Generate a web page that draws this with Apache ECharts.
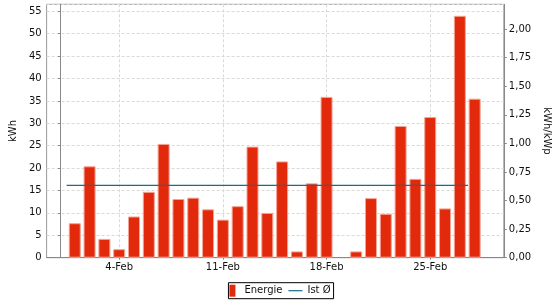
<!DOCTYPE html>
<html>
<head>
<meta charset="utf-8">
<script src="https://cdn.jsdelivr.net/npm/echarts@6/dist/echarts.min.js"></script>
<style>html,body{margin:0;padding:0;background:#fff}#c{width:560px;height:300px}</style>
</head>
<body>
<div id="c"></div>
<script>
// Data
const days = [1,2,3,4,5,6,7,8,9,10,11,12,13,14,15,16,17,18,19,20,21,22,23,24,25,26,27,28];
const energie = [7.7,20.4,4.2,1.9,9.2,14.7,25.4,13.1,13.4,10.8,8.5,11.5,24.8,10.0,21.5,1.4,16.6,35.9,null,1.4,13.3,9.8,29.4,17.6,31.4,11.0,54.0,35.5];
const xTickDays = [4,11,18,25];
const istAvg = 0.633;          // kWh/kWp
const istRange = [0.45, 27.55]; // day span of the average line
const seriesNames = ['Energie', 'Ist Ø'];

const font = 'DejaVu Sans';
const chart = echarts.init(document.getElementById('c'), null, {renderer: 'canvas'});
chart.setOption({
  animation: false,
  backgroundColor: '#fff',
  textStyle: {fontFamily: font},
  grid: {left: 46, right: 54.3, top: 4.3, bottom: 42.3, show: true, borderColor: '#999', borderWidth: 1, backgroundColor: 'transparent'},
  legend: {
    data: [
      {name: seriesNames[0], icon: 'path://M0,0h6v12h-6z', itemStyle: {borderWidth: 0}},
      {name: seriesNames[1], icon: 'path://M0,0h14v1.2h-14z'}
    ],
    left: 'center', top: 282.7,
    padding: [2, 3, 2, 1],
    itemWidth: 14, itemHeight: 12, itemGap: 6,
    borderColor: '#000', borderWidth: 1, borderRadius: 0,
    textStyle: {fontFamily: font, fontSize: 10, color: '#111'}
  },
  xAxis: {
    type: 'value', min: -0.9, max: 29.97,
    axisLine: {show: true, lineStyle: {color: '#888'}},
    axisTick: {show: true, length: 2, customValues: xTickDays, lineStyle: {color: '#888'}},
    axisLabel: {customValues: xTickDays, formatter: v => v + '-Feb', fontSize: 10, color: '#111', margin: 5, fontFamily: font},
    splitLine: {show: true, customValues: xTickDays, lineStyle: {color: '#d9d9d9', type: [3, 2]}}
  },
  yAxis: [{
    type: 'value', min: 0, max: 56.57, interval: 5,
    name: 'kWh', nameLocation: 'middle', nameRotate: 90, nameGap: 25,
    nameTextStyle: {fontSize: 10, color: '#111', fontFamily: font},
    axisLine: {show: true, lineStyle: {color: '#888'}},
    axisTick: {show: true, length: 2, lineStyle: {color: '#888'}},
    axisLabel: {fontSize: 10, color: '#111', margin: 5, fontFamily: font, showMaxLabel: false},
    splitLine: {show: true, lineStyle: {color: '#d9d9d9', type: [3, 2]}}
  }, {
    type: 'value', min: 0, max: 2.216, interval: 0.25,
    name: 'kWh/kWp', nameLocation: 'middle', nameRotate: -90, nameGap: 36,
    nameTextStyle: {fontSize: 10, color: '#111', fontFamily: font},
    axisLine: {show: true, lineStyle: {color: '#888'}},
    axisTick: {show: true, length: 3, lineStyle: {color: '#888'}},
    axisLabel: {fontSize: 10, color: '#111', margin: 5, fontFamily: font, showMaxLabel: false,
      formatter: v => v.toFixed(2).replace('.', ',')},
    splitLine: {show: false}
  }],
  series: [{
    name: seriesNames[0], type: 'bar', xAxisIndex: 0, yAxisIndex: 0,
    barWidth: 12,
    itemStyle: {color: '#e3290b', borderColor: '#f3a493', borderWidth: 1},
    data: days.map((d, i) => [d, energie[i]])
  }, {
    name: seriesNames[1], type: 'line', xAxisIndex: 0, yAxisIndex: 1,
    symbol: 'none', z: 5,
    lineStyle: {color: '#1b6a8a', width: 1.2},
    itemStyle: {color: '#1b6a8a'},
    data: istRange.map(x => [x, istAvg])
  }]
});
</script>
</body>
</html>
